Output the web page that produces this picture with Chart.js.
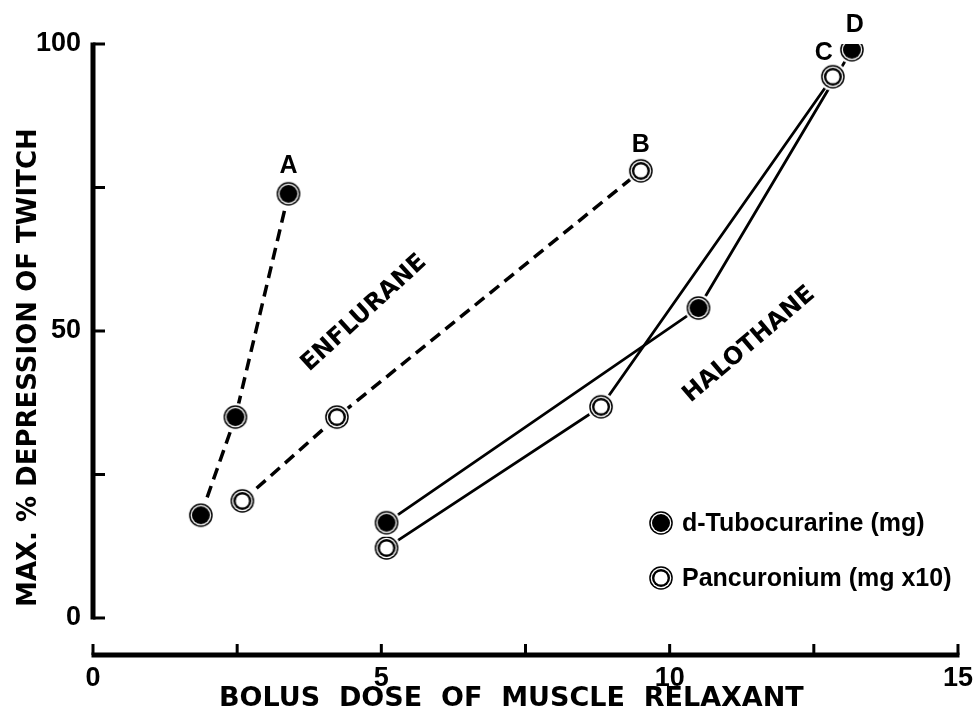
<!DOCTYPE html>
<html>
<head>
<meta charset="utf-8">
<script src="https://cdn.jsdelivr.net/npm/chart.js@4.4.1/dist/chart.umd.min.js"></script>
<style>
  html, body { margin: 0; padding: 0; background: #fff; }
  #wrap { width: 980px; height: 715px; }
</style>
</head>
<body>
<div id="wrap"><canvas id="chart" width="980" height="715"></canvas></div>
<script>
// enflurane curves
const enfTubDose = [1.87, 2.47, 3.39];
const enfTubDep  = [17.9, 35.0, 73.9];
const enfPanDose = [2.59, 4.23, 9.5];
const enfPanDep  = [20.4, 35.0, 77.9];
// halothane curves
const halTubDose = [5.09, 10.5, 13.16];
const halTubDep  = [16.6, 54.0, 99.0];
const halPanDose = [5.09, 8.81, 12.83];
const halPanDep  = [12.2, 36.8, 94.3];

const xTicks = [0, 2.5, 5, 7.5, 10, 12.5, 15];
const xTickLabels = ['0', '', '5', '', '10', '', '15'];
const yTicks = [0, 25, 50, 75, 100];
const yTickLabels = ['0', '', '50', '', '100'];

const curveLetters = ['A', 'B', 'D', 'C'];
const legendLabels = ['d-Tubocurarine (mg)', 'Pancuronium (mg x10)'];

const NUM_FONT = 'Liberation Sans';
const CAP_FONT = 'DejaVu Sans';

// double-ring markers like the original plot
const makeMarker = (filled) => {
    const c = document.createElement('canvas');
    c.width = 30; c.height = 30;
    const g = c.getContext('2d');
    const disc = (r, col) => { g.beginPath(); g.arc(15, 15, r, 0, Math.PI * 2); g.fillStyle = col; g.fill(); };
    disc(14, '#fff');
    disc(11.8, '#000');
    disc(10.3, '#fff');
    disc(9, '#000');
    if (!filled) disc(6.6, '#fff');
    return c;
};
const dotFilled = makeMarker(true);
const dotOpen = makeMarker(false);

const pts = (xs, ys) => xs.map((x, i) => ({ x, y: ys[i] }));

const series = [
    { data: pts(enfTubDose, enfTubDep), marker: dotFilled, dash: [12, 7], width: 3.5 },
    { data: pts(enfPanDose, enfPanDep), marker: dotOpen,   dash: [12, 7], width: 3.5 },
    { data: pts(halTubDose, halTubDep), marker: dotFilled, dash: [],      width: 2.8 },
    { data: pts(halPanDose, halPanDep), marker: dotOpen,   dash: [],      width: 2.8 }
];

const lineSets = series.map(s => ({
    data: s.data, showLine: true, fill: false, order: 1,
    borderColor: '#000', borderWidth: s.width, borderDash: s.dash,
    pointRadius: 0, tension: 0
}));
const pointSets = series.map(s => ({
    data: s.data, showLine: false, order: 0,
    pointStyle: s.marker, pointRadius: 12, pointHoverRadius: 12
}));

const axesPlugin = {
    id: 'axes',
    afterDatasetsDraw(chart) {
        const ctx = chart.ctx, xs = chart.scales.x, ys = chart.scales.y;
        const x0 = xs.getPixelForValue(0);
        const yb = chart.chartArea.bottom;
        ctx.save();
        ctx.strokeStyle = '#000';
        ctx.lineCap = 'butt';
        // y axis
        ctx.lineWidth = 5;
        ctx.beginPath();
        ctx.moveTo(x0, ys.getPixelForValue(0) + 1.5);
        ctx.lineTo(x0, ys.getPixelForValue(100) - 1.5);
        ctx.stroke();
        ctx.lineWidth = 3;
        yTicks.forEach(v => {
            const y = ys.getPixelForValue(v);
            ctx.beginPath(); ctx.moveTo(x0, y); ctx.lineTo(x0 + 12, y); ctx.stroke();
        });
        // x axis, detached below
        ctx.lineWidth = 5;
        ctx.beginPath();
        ctx.moveTo(xs.getPixelForValue(0) - 1.5, yb);
        ctx.lineTo(xs.getPixelForValue(15) + 1.5, yb);
        ctx.stroke();
        ctx.lineWidth = 3;
        xTicks.forEach(v => {
            const x = xs.getPixelForValue(v);
            ctx.beginPath(); ctx.moveTo(x, yb); ctx.lineTo(x, yb - 11); ctx.stroke();
        });
        ctx.restore();
    }
};

const notesPlugin = {
    id: 'notes',
    afterDraw(chart) {
        const ctx = chart.ctx, xs = chart.scales.x, ys = chart.scales.y;
        ctx.save();
        ctx.fillStyle = '#000';
        ctx.textAlign = 'center';
        ctx.textBaseline = 'middle';

        // curve letters above last point
        const offs = [[0, -28], [0, -26], [3, -25], [-9, -24]];
        ctx.font = 'bold 25px "' + NUM_FONT + '"';
        curveLetters.forEach((t, i) => {
            const meta = chart.getDatasetMeta(lineSets.length + i);
            const p = meta.data[meta.data.length - 1];
            ctx.fillText(t, p.x + offs[i][0], p.y + offs[i][1]);
        });

        // anaesthetic names along the curves
        ctx.font = 'bold 24px "' + CAP_FONT + '"';
        [['ENFLURANE', 4.7, 53.1, -42.6], ['HALOTHANE', 11.38, 47.6, -40.5]].forEach(([t, x, y, a]) => {
            ctx.save();
            ctx.translate(xs.getPixelForValue(x), ys.getPixelForValue(y));
            ctx.rotate(a * Math.PI / 180);
            ctx.fillText(t, 0, 0);
            ctx.restore();
        });

        // legend
        ctx.textAlign = 'left';
        ctx.font = 'bold 25px "' + NUM_FONT + '"';
        [[dotFilled, 523], [dotOpen, 578]].forEach(([m, y], i) => {
            ctx.drawImage(m, 661 - 15, y - 15);
            ctx.fillText(legendLabels[i], 682, y + 1);
        });
        ctx.restore();
    }
};

new Chart(document.getElementById('chart'), {
    type: 'scatter',
    data: { datasets: [...lineSets, ...pointSets] },
    options: {
        responsive: false,
        animation: false,
        events: [],
        layout: { padding: { top: 44, right: 18, left: 0, bottom: 0 } },
        plugins: { legend: { display: false }, tooltip: { enabled: false } },
        scales: {
            x: {
                type: 'linear', min: 0, max: 15, bounds: 'data',
                afterBuildTicks: s => { s.ticks = xTicks.map(v => ({ value: v })); },
                afterFit: s => { s.height = 60; },
                grid: { display: false, drawTicks: false },
                border: { display: false },
                ticks: {
                    callback: (v, i) => xTickLabels[i],
                    autoSkip: false, maxRotation: 0, padding: 7, color: '#000',
                    font: { family: NUM_FONT, size: 27, weight: 'bold' }
                },
                title: {
                    display: true, text: 'BOLUS  DOSE  OF  MUSCLE  RELAXANT   ', color: '#000',
                    font: { family: CAP_FONT, size: 27, weight: 'bold' },
                    padding: { top: 0, bottom: 0 }
                }
            },
            y: {
                type: 'linear', min: -6.45, max: 100, bounds: 'data',
                afterBuildTicks: s => { s.ticks = yTicks.map(v => ({ value: v })); },
                afterFit: s => { s.width = 93; },
                grid: { display: false, drawTicks: false },
                border: { display: false },
                ticks: {
                    callback: (v, i) => yTickLabels[i],
                    autoSkip: false, padding: 12, color: '#000',
                    font: { family: NUM_FONT, size: 27, weight: 'bold' }
                },
                title: {
                    display: true, text: 'MAX. % DEPRESSION OF TWITCH    ', color: '#000',
                    font: { family: CAP_FONT, size: 26, weight: 'bold' },
                    padding: { top: 14, bottom: 0 }
                }
            }
        }
    },
    plugins: [axesPlugin, notesPlugin]
});
</script>
</body>
</html>
